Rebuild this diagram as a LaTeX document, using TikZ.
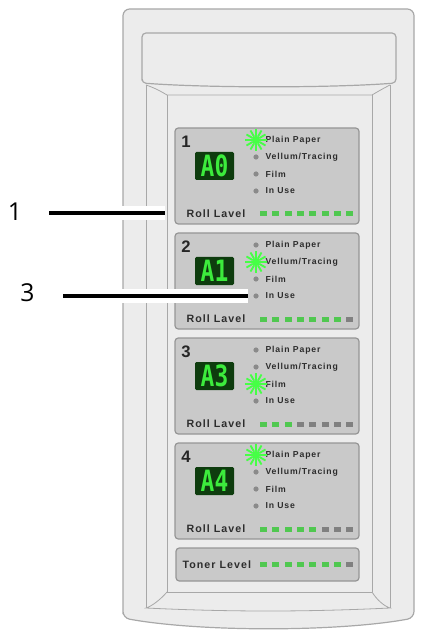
\documentclass[tikz,border=0pt]{standalone}
\usepackage{fontspec}
\setmainfont{Liberation Sans}
\newfontfamily\calloutfont{Open Sans}
\newfontfamily\panelfont[LetterSpace=10]{Liberation Sans}
\newfontfamily\segfont{DejaVu Sans Mono}

\definecolor{bodygray}{RGB}{236,236,236}
\definecolor{edgegray}{RGB}{168,168,168}
\definecolor{panelgray}{RGB}{201,201,201}
\definecolor{paneledge}{RGB}{150,150,150}
\definecolor{segbg}{RGB}{14,60,14}
\definecolor{seggreen}{RGB}{60,235,60}
\definecolor{bargreen}{RGB}{80,200,80}
\definecolor{bargray}{RGB}{128,128,128}
\definecolor{ledgray}{RGB}{138,138,138}
\definecolor{ledlit}{RGB}{70,255,70}
\definecolor{textdark}{RGB}{45,45,45}

\tikzset{every picture/.style={line width=0.75pt},
  body/.style={draw=edgegray, fill=bodygray, line width=0.9pt},
  bezel/.style={draw=edgegray, line width=0.6pt},
  panel/.style={draw=paneledge, fill=panelgray, rounded corners=2.5pt, line width=0.9pt},
  segbox/.style={fill=segbg, rounded corners=1pt},
  segtext/.style={inner sep=0pt, text=seggreen, font=\segfont\bfseries\fontsize{22}{22}\selectfont},
  panelnum/.style={inner sep=0pt, text=black!85, font=\bfseries\fontsize{12.5}{12.5}\selectfont},
  ledlabel/.style={anchor=west, inner sep=0pt, text=textdark, font=\panelfont\bfseries\fontsize{6.5}{7}\selectfont},
  levellabel/.style={anchor=west, inner sep=0pt, text=textdark, font=\panelfont\bfseries\fontsize{8}{9}\selectfont},
  ledoff/.style={fill=ledgray},
  baron/.style={fill=bargreen},
  baroff/.style={fill=bargray},
  calloutnum/.style={inner sep=0pt, font=\calloutfont\fontsize{18.5}{18.5}\selectfont},
  halo/.style={draw=white, line width=10.5pt},
  leader/.style={draw=black, line width=2.6pt},
  ledon/.pic={
    \foreach \a in {0,30,...,330} \draw[ledlit, line width=1.4pt] (\a:4) -- (\a:11);
    \fill[ledlit] (0,0) circle (4.2);
  }
}

\begin{document}
\begin{tikzpicture}[x=0.75pt,y=0.75pt,yscale=-1,xscale=1]
\useasboundingbox (0,0) rectangle (423,634);

%Shape: Body [id:dp01]
\draw[body, rounded corners=5pt] (123,618) -- (123,9) -- (414,9) -- (414,618) .. controls (337,632) and (200,632) .. (123,618) -- cycle;
%Shape: Lid [id:dp02]
\draw[body, rounded corners=3pt] (142,83) -- (142,33) -- (396,33) -- (396,83) .. controls (330,88) and (208,88) .. (142,83) -- cycle;
%Straight Lines [id:da01]
\draw[bezel] (146,85) -- (146,608);
\draw[bezel] (390,85) -- (390,608);
\draw[bezel] (167,95) -- (167,592);
\draw[bezel] (372,95) -- (372,592);
%Curve Lines [id:da02]
\draw[bezel] (146,85) .. controls (155,88) and (162,92) .. (167,95) -- (372,95) .. controls (377,92) and (384,88) .. (390,85);
%Curve Lines [id:da03]
\draw[bezel] (167,592) -- (372,592);
\draw[bezel] (167,592) .. controls (160,600) and (152,606) .. (146,608) .. controls (230,612) and (306,612) .. (390,608) .. controls (384,606) and (377,600) .. (372,592);

%Shape: Panel 1 [id:dp11]
\draw[panel] (175,128) rectangle (359,224);
\fill[segbox] (195,152) rectangle (234,180);
\fill[ledoff] (256,157) circle (2.6);
\fill[ledoff] (256,174) circle (2.6);
\fill[ledoff] (256,191) circle (2.6);
\foreach \i in {0,...,7} \fill[baron] (260+\i*12.3,211.5) rectangle ++(7,5);
% Text Node
\node[panelnum] (num1) at (186,142) {1};
\node[segtext] (disp1) at (214.5,166) {\scalebox{0.78}[1]{A0}};
\node[ledlabel] (plain1) at (265,140) {Plain Paper};
\node[ledlabel] (vellum1) at (265,157) {Vellum/Tracing};
\node[ledlabel] (film1) at (265,174) {Film};
\node[ledlabel] (inuse1) at (265,191) {In Use};
\node[levellabel] (roll1) at (186,214) {Roll Lavel};
\pic at (256,140) {ledon};

%Shape: Panel 2 [id:dp12]
\draw[panel] (175,233) rectangle (359,329);
\fill[segbox] (195,257) rectangle (234,285);
\fill[ledoff] (256,245) circle (2.6);
\fill[ledoff] (256,279) circle (2.6);
\fill[ledoff] (256,296) circle (2.6);
\foreach \i in {0,...,6} \fill[baron] (260+\i*12.3,316.5) rectangle ++(7,5);
\foreach \i in {7} \fill[baroff] (260+\i*12.3,316.5) rectangle ++(7,5);
% Text Node
\node[panelnum] (num2) at (186,247) {2};
\node[segtext] (disp2) at (214.5,271) {\scalebox{0.78}[1]{A1}};
\node[ledlabel] (plain2) at (265,245) {Plain Paper};
\node[ledlabel] (vellum2) at (265,262) {Vellum/Tracing};
\node[ledlabel] (film2) at (265,279) {Film};
\node[ledlabel] (inuse2) at (265,296) {In Use};
\node[levellabel] (roll2) at (186,319) {Roll Lavel};
\pic at (256,262) {ledon};

%Shape: Panel 3 [id:dp13]
\draw[panel] (175,338) rectangle (359,434);
\fill[segbox] (195,362) rectangle (234,390);
\fill[ledoff] (256,350) circle (2.6);
\fill[ledoff] (256,367) circle (2.6);
\fill[ledoff] (256,401) circle (2.6);
\foreach \i in {0,...,2} \fill[baron] (260+\i*12.3,421.5) rectangle ++(7,5);
\foreach \i in {3,...,7} \fill[baroff] (260+\i*12.3,421.5) rectangle ++(7,5);
% Text Node
\node[panelnum] (num3) at (186,352) {3};
\node[segtext] (disp3) at (214.5,376) {\scalebox{0.78}[1]{A3}};
\node[ledlabel] (plain3) at (265,350) {Plain Paper};
\node[ledlabel] (vellum3) at (265,367) {Vellum/Tracing};
\node[ledlabel] (film3) at (265,384) {Film};
\node[ledlabel] (inuse3) at (265,401) {In Use};
\node[levellabel] (roll3) at (186,424) {Roll Lavel};
\pic at (256,384) {ledon};

%Shape: Panel 4 [id:dp14]
\draw[panel] (175,443) rectangle (359,539);
\fill[segbox] (195,467) rectangle (234,495);
\fill[ledoff] (256,472) circle (2.6);
\fill[ledoff] (256,489) circle (2.6);
\fill[ledoff] (256,506) circle (2.6);
\foreach \i in {0,...,4} \fill[baron] (260+\i*12.3,526.5) rectangle ++(7,5);
\foreach \i in {5,...,7} \fill[baroff] (260+\i*12.3,526.5) rectangle ++(7,5);
% Text Node
\node[panelnum] (num4) at (186,457) {4};
\node[segtext] (disp4) at (214.5,481) {\scalebox{0.78}[1]{A4}};
\node[ledlabel] (plain4) at (265,455) {Plain Paper};
\node[ledlabel] (vellum4) at (265,472) {Vellum/Tracing};
\node[ledlabel] (film4) at (265,489) {Film};
\node[ledlabel] (inuse4) at (265,506) {In Use};
\node[levellabel] (roll4) at (186,529) {Roll Lavel};
\pic at (256,455) {ledon};

%Shape: Toner Panel [id:dp15]
\draw[panel] (176,548) rectangle (359,581);
\foreach \i in {0,...,6} \fill[baron] (260+\i*12.3,562) rectangle ++(7,5);
\foreach \i in {7} \fill[baroff] (260+\i*12.3,562) rectangle ++(7,5);
% Text Node
\node[levellabel] (toner) at (182,564.5) {Toner Level};

%Straight Lines [id:da21]
\node[calloutnum] (call1) at (15,212) {1};
\coordinate (lead1a) at (49,213);
\coordinate (lead1b) at (165,213);
\draw[halo] (lead1a) -- (lead1b);
\draw[leader] (lead1a) -- (lead1b);
%Straight Lines [id:da22]
\node[calloutnum] (call3) at (27.5,293) {3};
\coordinate (lead3a) at (63,296);
\coordinate (lead3b) at (248,296);
\draw[halo] (lead3a) -- (lead3b);
\draw[leader] (lead3a) -- (lead3b);

\end{tikzpicture}
\end{document}
